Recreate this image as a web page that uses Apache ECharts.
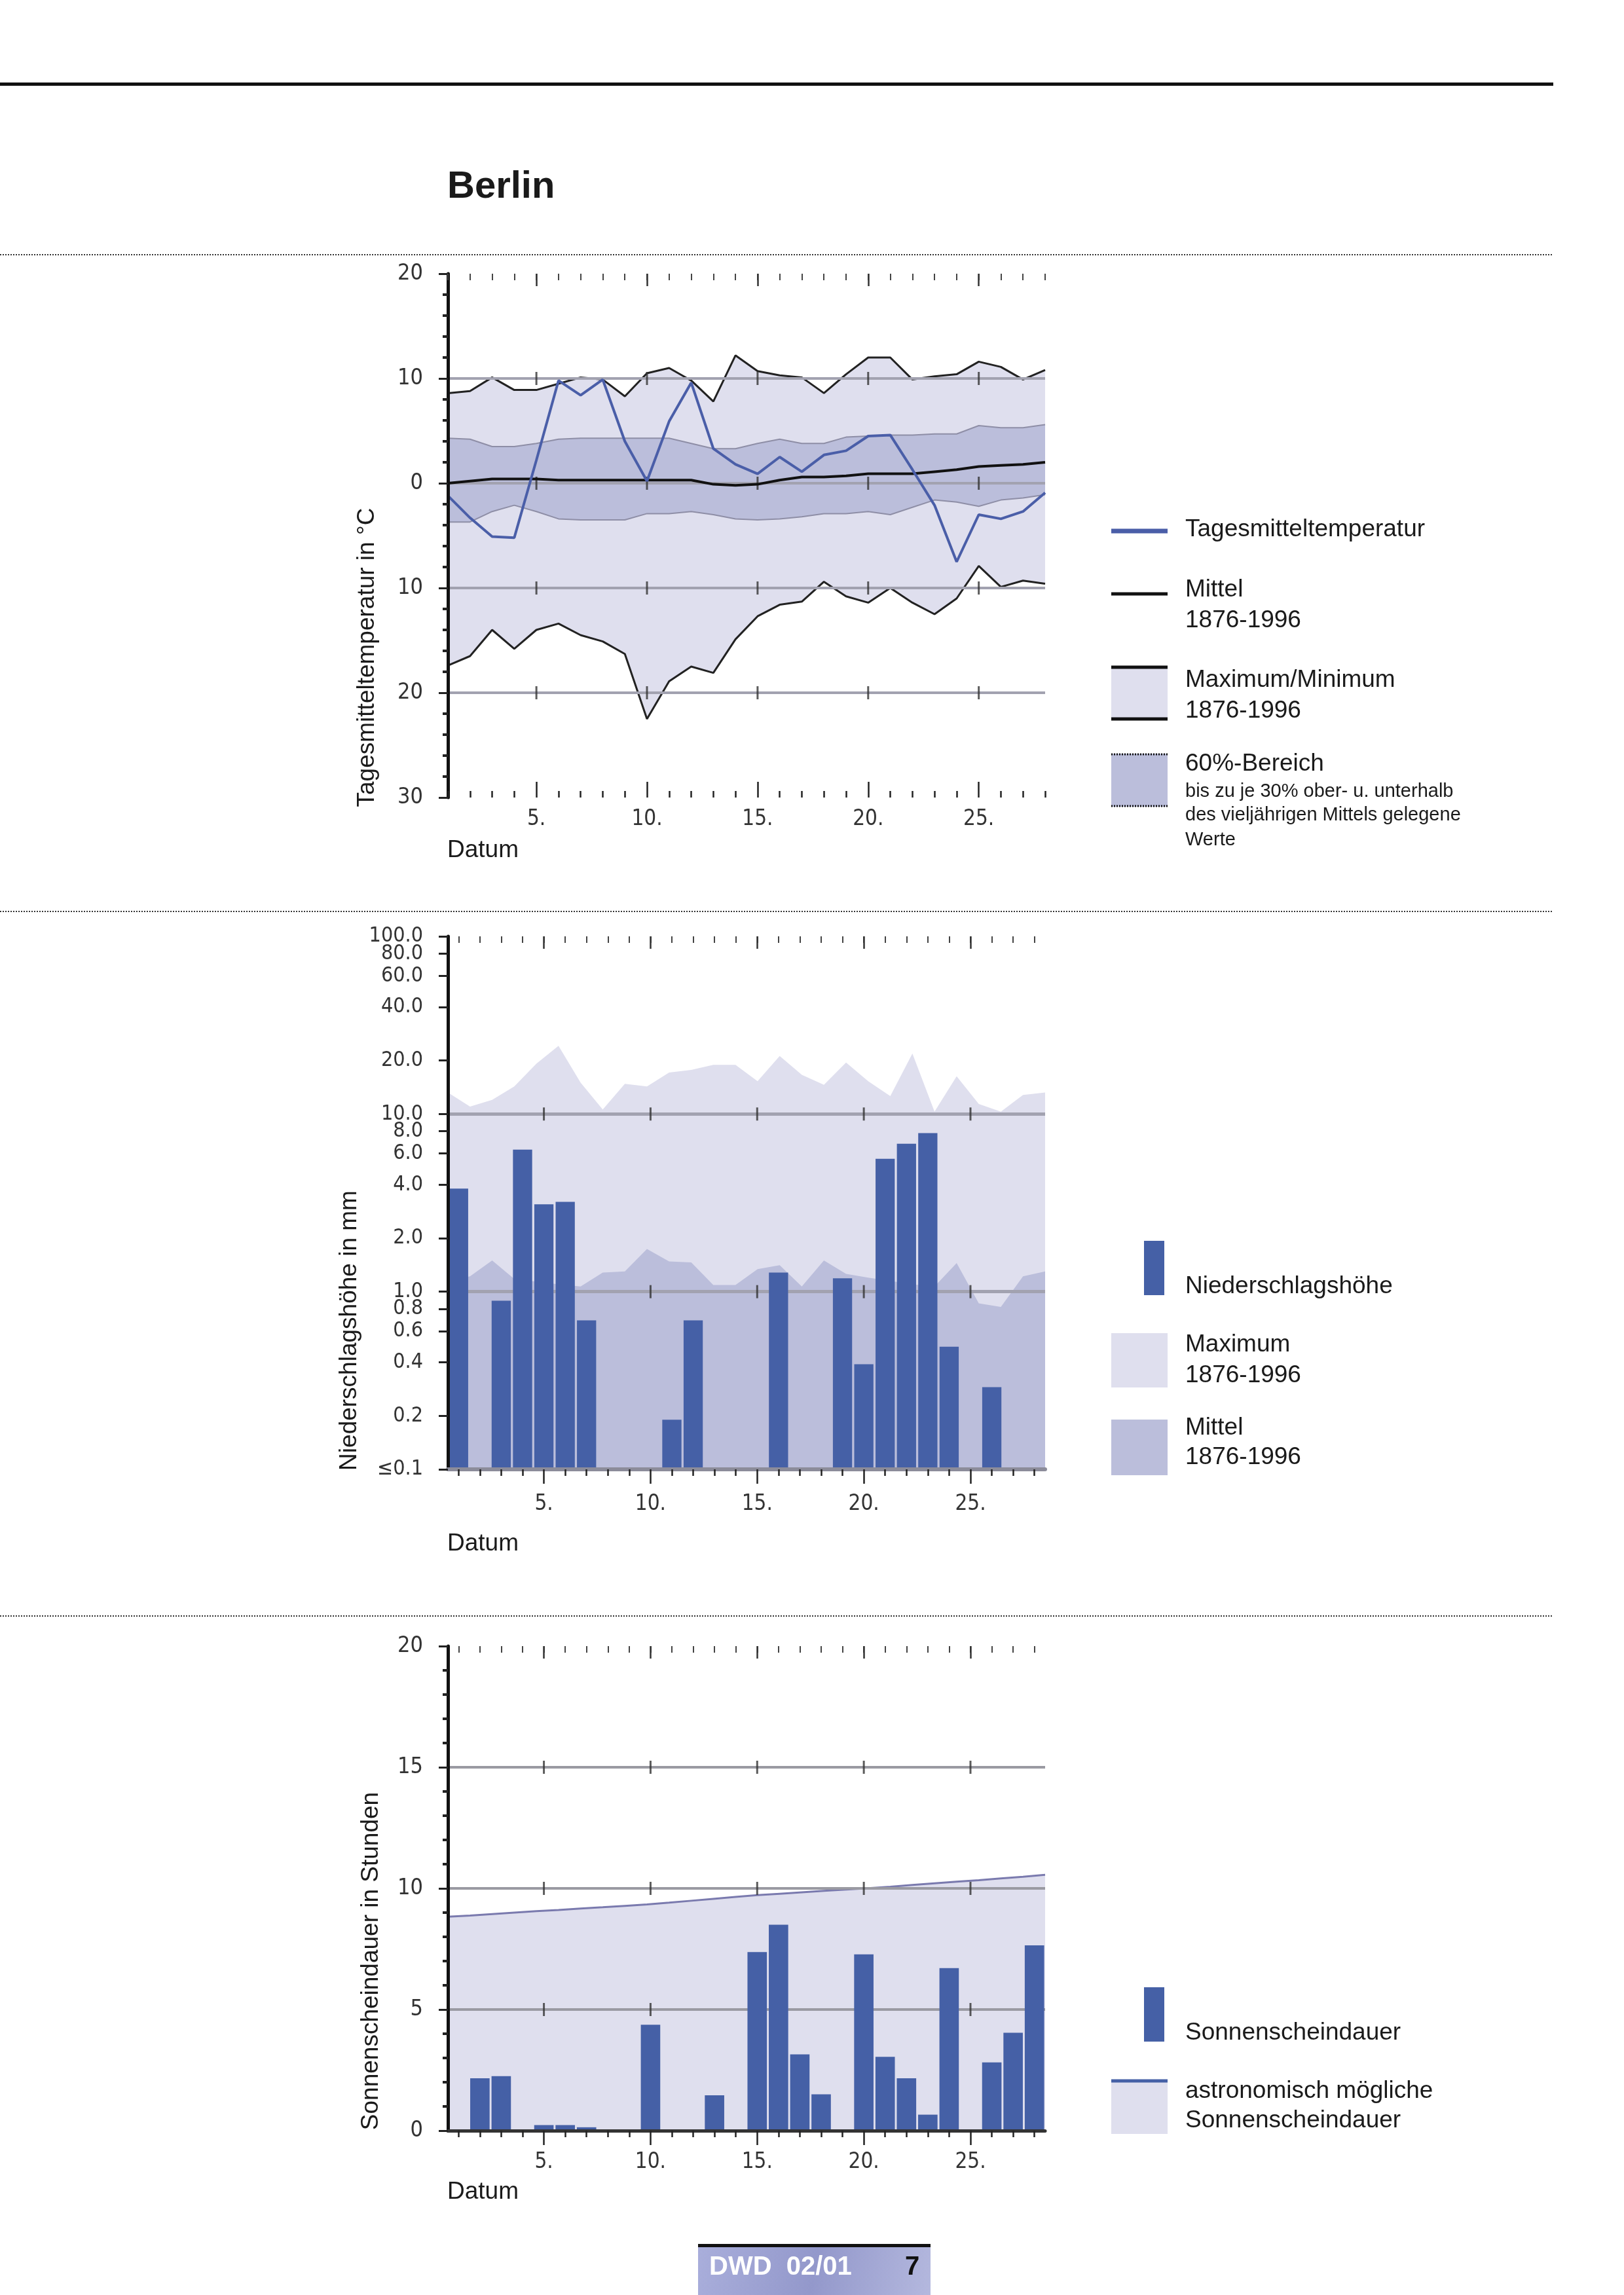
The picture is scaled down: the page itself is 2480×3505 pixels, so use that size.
<!DOCTYPE html>
<html>
<head>
<meta charset="utf-8">
<script src="https://cdn.jsdelivr.net/npm/echarts@6/dist/echarts.min.js"></script>
<style>
html,body{margin:0;padding:0;background:#ffffff;}
#c{width:2480px;height:3505px;}
</style>
</head>
<body>
<div id="c"></div>
<script>
// ---------------- DATA ----------------
const days = [1,2,3,4,5,6,7,8,9,10,11,12,13,14,15,16,17,18,19,20,21,22,23,24,25,26,27,28];
const markDays = [5,10,15,20,25];

// Temperature (°C)
const tempDaily   = [-1.2,-3.3,-5.1,-5.2,2.2,9.8,8.4,9.9,4.0,0.2,5.9,9.6,3.3,1.8,0.9,2.5,1.1,2.7,3.1,4.5,4.6,1.3,-2.1,-7.5,-3.0,-3.4,-2.7,-0.9];
const tempMean    = [0.0,0.2,0.4,0.4,0.4,0.3,0.3,0.3,0.3,0.3,0.3,0.3,-0.1,-0.2,-0.1,0.3,0.6,0.6,0.7,0.9,0.9,0.9,1.1,1.3,1.6,1.7,1.8,2.0];
const tempMax     = [8.6,8.8,10.1,8.9,8.9,9.5,10.1,9.9,8.3,10.5,11.0,9.8,7.8,12.2,10.7,10.3,10.1,8.6,10.4,12.0,12.0,9.9,10.2,10.4,11.6,11.1,9.9,10.8];
const tempMin     = [-17.4,-16.5,-14.0,-15.8,-14.0,-13.4,-14.5,-15.1,-16.3,-22.5,-18.9,-17.5,-18.1,-14.9,-12.7,-11.6,-11.3,-9.4,-10.8,-11.4,-10.0,-11.4,-12.5,-11.0,-7.9,-9.9,-9.3,-9.6];
const temp60Upper = [4.3,4.2,3.5,3.5,3.8,4.2,4.3,4.3,4.3,4.3,4.3,3.8,3.3,3.3,3.8,4.2,3.8,3.8,4.4,4.5,4.6,4.6,4.7,4.7,5.5,5.3,5.3,5.6];
const temp60Lower = [-3.7,-3.7,-2.7,-2.1,-2.7,-3.4,-3.5,-3.5,-3.5,-2.9,-2.9,-2.7,-3.0,-3.4,-3.5,-3.4,-3.2,-2.9,-2.9,-2.7,-3.0,-2.3,-1.6,-1.8,-2.2,-1.6,-1.4,-1.1];
const tempGridValues = [10, 0, -10, -20];

// Precipitation (mm)
const precipDaily = [3.8,null,0.89,6.3,3.1,3.2,0.69,null,null,null,0.19,0.69,null,null,null,1.28,null,null,1.19,0.39,5.6,6.8,7.8,0.49,null,0.29,null,null];
const precipMax   = [13.2,11.0,12.0,14.3,19.2,24.2,15.0,10.6,14.8,14.3,17.1,17.7,18.9,18.9,15.3,21.2,16.6,14.6,19.5,15.3,12.6,21.9,10.3,16.3,11.4,10.3,12.8,13.2];
const precipMean  = [1.15,1.22,1.5,1.18,1.14,1.1,1.07,1.28,1.3,1.74,1.48,1.46,1.09,1.09,1.34,1.41,1.07,1.5,1.26,1.2,1.15,1.1,1.07,1.45,0.86,0.82,1.22,1.3];
const precipTickValues = [0.1,0.2,0.4,0.6,0.8,1,2,4,6,8,10,20,40,60,99.9999];
const precipTickValuesExtra = [80];
const precipGridValues = [1, 10];

// Sunshine (hours)
const sunDaily    = [null,2.16,2.25,null,0.23,0.23,0.14,null,null,4.37,null,null,1.46,null,7.37,8.5,3.15,1.5,null,7.28,3.05,2.16,0.66,6.71,null,2.82,4.04,7.65];
const sunPossible = [8.83,8.88,8.94,9.0,9.06,9.11,9.17,9.22,9.28,9.34,9.41,9.49,9.57,9.65,9.72,9.78,9.84,9.9,9.95,10.01,10.07,10.14,10.21,10.28,10.34,10.41,10.48,10.56];
const sunGridValues = [5, 10, 15];

// ---------------- STYLE ----------------
const SANS = "'Liberation Sans', Arial, Helvetica, sans-serif";
const NARROW = "'Liberation Sans Narrow', 'DejaVu Sans Condensed', 'Liberation Sans', sans-serif";
const TXT = '#1a1a1a';
const BAR = '#4560a6';
const LINEBLUE = '#4a5ea8';
const LIGHT = '#dfdfee';
const MID = '#bbbedb';
const GRIDGRAY = '#a2a2b0';

const dayCats = days.map(String);
const isMark = (i) => markDays.indexOf(days[i]) >= 0;

function xAxesFor(grid, cfg) {
  const base = {gridIndex: grid, type: 'category', data: dayCats, boundaryGap: cfg.boundaryGap, splitLine: {show: false}, z: 10};
  const tickStyle = {color: '#222', width: 2.5};
  return [
    Object.assign({}, base, {position: 'bottom', axisLine: cfg.bottomLine,
      axisTick: {show: true, inside: cfg.bottomInside, interval: 0, alignWithLabel: true, length: cfg.minorLen, lineStyle: tickStyle},
      axisLabel: {show: false}}),
    Object.assign({}, base, {position: 'bottom', axisLine: {show: false, onZero: false},
      axisTick: {show: true, inside: cfg.bottomInside, interval: isMark, alignWithLabel: true, length: cfg.majorLen, lineStyle: tickStyle},
      axisLabel: {show: true, interval: isMark, formatter: v => v + '.', margin: cfg.labelMargin, fontSize: 33, fontFamily: NARROW, color: '#333'}}),
    Object.assign({}, base, {position: 'top', axisLine: {show: false, onZero: false},
      axisTick: {show: true, inside: true, interval: 0, alignWithLabel: true, length: 10, lineStyle: {color: '#444', width: 2}},
      axisLabel: {show: false}}),
    Object.assign({}, base, {position: 'top', axisLine: {show: false, onZero: false},
      axisTick: {show: true, inside: true, interval: isMark, alignWithLabel: true, length: 19, lineStyle: {color: '#333', width: 2.5}},
      axisLabel: {show: false}})
  ];
}

const xAxes = [].concat(
  // chart 1: indices 0..3
  xAxesFor(0, {boundaryGap: false, bottomLine: {show: false, onZero: false}, bottomInside: true, minorLen: 10, majorLen: 24, labelMargin: 17}),
  // chart 2: indices 4..7
  xAxesFor(1, {boundaryGap: true, bottomLine: {show: true, onZero: false, lineStyle: {color: '#8c8c9a', width: 6}}, bottomInside: false, minorLen: 10, majorLen: 22, labelMargin: 37}),
  // 8: hidden area axis chart 2
  [{gridIndex: 1, type: 'category', data: dayCats, boundaryGap: false, show: false, axisLine: {onZero: false}}],
  // chart 3: indices 9..12
  xAxesFor(2, {boundaryGap: true, bottomLine: {show: true, onZero: false, lineStyle: {color: '#333', width: 5}}, bottomInside: false, minorLen: 10, majorLen: 22, labelMargin: 32}),
  // 13: hidden area axis chart 3
  [{gridIndex: 2, type: 'category', data: dayCats, boundaryGap: false, show: false, axisLine: {onZero: false}}]
);

const yTick = {show: true, length: 14, lineStyle: {color: '#222', width: 3}};
const yLabel = {margin: 38, fontSize: 34, fontFamily: NARROW, color: '#333', hideOverlap: false, showMinLabel: true, showMaxLabel: true};
const yLine = {show: true, onZero: false, lineStyle: {color: '#111', width: 5}};
const precipFmt = v => (v <= 0.1001 ? '\u22640.1' : Number(v).toFixed(1));

const yAxes = [
  {gridIndex: 0, type: 'value', min: -30, max: 20, interval: 10, axisLine: yLine, axisTick: yTick,
   minorTick: {show: true, splitNumber: 5, length: 8, lineStyle: {color: '#222', width: 4}},
   axisLabel: Object.assign({}, yLabel, {formatter: v => String(Math.abs(v))}),
   splitLine: {show: false}, z: 10},
  {gridIndex: 1, type: 'log', logBase: 10, min: 0.1, max: 100, position: 'left', axisLine: yLine,
   axisTick: Object.assign({}, yTick, {customValues: precipTickValues}),
   axisLabel: Object.assign({}, yLabel, {customValues: precipTickValues, fontSize: 32, formatter: precipFmt}),
   splitLine: {show: false}, minorTick: {show: false}, z: 10},
  {gridIndex: 2, type: 'value', min: 0, max: 20, interval: 5, axisLine: yLine, axisTick: yTick,
   minorTick: {show: true, splitNumber: 5, length: 8, lineStyle: {color: '#222', width: 4}},
   axisLabel: yLabel, splitLine: {show: false}, z: 10},
  // extra overlay axis for the crowded 80.0 label
  {gridIndex: 1, type: 'log', logBase: 10, min: 0.1, max: 100, position: 'left', offset: 0,
   axisLine: {show: false, onZero: false},
   axisTick: Object.assign({}, yTick, {customValues: precipTickValuesExtra}),
   axisLabel: Object.assign({}, yLabel, {customValues: precipTickValuesExtra, fontSize: 32, formatter: precipFmt}),
   splitLine: {show: false}, minorTick: {show: false}, z: 10}
];

function crossData(values) {
  const out = [];
  values.forEach(v => markDays.forEach(d => out.push([String(d), v])));
  return out;
}
function gridMarkLine(values, color, width) {
  return {silent: true, symbol: ['none', 'none'], z: 5, label: {show: false},
          lineStyle: {color: color, width: width, type: 'solid'}, emphasis: {disabled: true},
          data: values.map(v => ({yAxis: v}))};
}
const crossStyle = {type: 'scatter', symbol: 'rect', symbolSize: [3, 20], itemStyle: {color: '#333'}, silent: true, z: 5};

const lineBase = {type: 'line', symbol: 'none', silent: true, animation: false};

const series = [
  // ---- Chart 1 ----
  Object.assign({}, lineBase, {name: 'Maximum', xAxisIndex: 1, yAxisIndex: 0, data: tempMax, z: 1,
    lineStyle: {color: '#222', width: 3}, areaStyle: {color: LIGHT, opacity: 1, origin: 'start'}}),
  Object.assign({}, lineBase, {name: '60% oben', xAxisIndex: 1, yAxisIndex: 0, data: temp60Upper, z: 2,
    lineStyle: {color: '#8e8ea6', width: 2}, areaStyle: {color: MID, opacity: 1, origin: 'start'}}),
  Object.assign({}, lineBase, {name: '60% unten', xAxisIndex: 1, yAxisIndex: 0, data: temp60Lower, z: 3,
    lineStyle: {color: '#8e8ea6', width: 2}, areaStyle: {color: LIGHT, opacity: 1, origin: 'start'}}),
  Object.assign({}, lineBase, {name: 'Minimum', xAxisIndex: 1, yAxisIndex: 0, data: tempMin, z: 4,
    lineStyle: {color: '#222', width: 3}, areaStyle: {color: '#ffffff', opacity: 1, origin: 'start'},
    markLine: gridMarkLine(tempGridValues, GRIDGRAY, 4)}),
  Object.assign({}, crossStyle, {xAxisIndex: 1, yAxisIndex: 0, data: crossData(tempGridValues)}),
  Object.assign({}, lineBase, {name: 'Mittel', xAxisIndex: 1, yAxisIndex: 0, data: tempMean, z: 6,
    lineStyle: {color: '#111', width: 4}}),
  Object.assign({}, lineBase, {name: 'Tagesmitteltemperatur', xAxisIndex: 1, yAxisIndex: 0, data: tempDaily, z: 7,
    lineStyle: {color: LINEBLUE, width: 4}}),

  // ---- Chart 2 ----
  Object.assign({}, lineBase, {name: 'Maximum NS', xAxisIndex: 8, yAxisIndex: 1, data: precipMax, z: 1,
    lineStyle: {width: 0}, areaStyle: {color: LIGHT, opacity: 1, origin: 'start'}}),
  Object.assign({}, lineBase, {name: 'Mittel NS', xAxisIndex: 8, yAxisIndex: 1, data: precipMean, z: 2,
    lineStyle: {width: 0}, areaStyle: {color: MID, opacity: 1, origin: 'start'},
    markLine: gridMarkLine(precipGridValues, GRIDGRAY, 5)}),
  Object.assign({}, crossStyle, {xAxisIndex: 4, yAxisIndex: 1, data: crossData(precipGridValues)}),
  {type: 'custom', name: 'Niederschlagshöhe', xAxisIndex: 4, yAxisIndex: 1, silent: true, z: 6,
   encode: {x: 0, y: 1},
   data: days.map((d, i) => precipDaily[i] == null ? null : [String(d), precipDaily[i]]).filter(x => x),
   renderItem: function (params, api) {
     const idx = api.value(0);
     const val = api.value(1);
     const top = api.coord([idx, val]);
     const base = api.coord([idx, 0.1]);
     const w = api.size([1, 1])[0] * 0.9;
     return {type: 'rect', shape: {x: top[0] - w / 2, y: top[1], width: w, height: base[1] - top[1]},
             style: {fill: BAR}};
   }},

  // ---- Chart 3 ----
  Object.assign({}, lineBase, {name: 'astronomisch mögliche Sonnenscheindauer', xAxisIndex: 13, yAxisIndex: 2, data: sunPossible, z: 1,
    lineStyle: {color: '#7a7aae', width: 3}, areaStyle: {color: LIGHT, opacity: 1, origin: 'start'},
    markLine: gridMarkLine(sunGridValues, '#9a9aa2', 4)}),
  Object.assign({}, crossStyle, {xAxisIndex: 9, yAxisIndex: 2, data: crossData(sunGridValues)}),
  {type: 'bar', name: 'Sonnenscheindauer', xAxisIndex: 9, yAxisIndex: 2, data: sunDaily, barWidth: '91%',
   itemStyle: {color: BAR}, silent: true, z: 6}
];

// ---------------- GRAPHIC (texts, legends, frame) ----------------
function text(x, y, s, size, opt) {
  opt = opt || {};
  return {type: 'text', x: x, y: y, silent: true, rotation: opt.rotation || 0, z: 20,
    style: {text: s, fontSize: size, fontFamily: opt.family || SANS, fontWeight: opt.weight || 'normal',
            fill: opt.fill || TXT, textAlign: opt.align || 'left', textVerticalAlign: 'middle',
            align: opt.align || 'left', verticalAlign: 'middle'}};
}
function hline(x1, x2, y, color, w, dash) {
  return {type: 'line', silent: true, z: 20, shape: {x1: x1, y1: y, x2: x2, y2: y},
          style: {stroke: color, lineWidth: w, lineDash: dash || null}};
}
function rect(x, y, w, h, fill) {
  return {type: 'rect', silent: true, z: 19, shape: {x: x, y: y, width: w, height: h}, style: {fill: fill}};
}

const LX = 1697, LW = 86, TX = 1810, BIG = 37, SMALL = 29;

const graphics = [
  // top frame
  rect(0, 126, 2372, 5, '#111'),
  text(683, 286, 'Berlin', 58, {weight: 'bold'}),
  hline(0, 2372, 389, '#333', 2, [2, 2]),
  hline(0, 2372, 1392, '#333', 2, [2, 2]),
  hline(0, 2372, 2468, '#333', 2, [2, 2]),

  // axis titles
  text(561, 1004, 'Tagesmitteltemperatur in \u00b0C', BIG, {rotation: Math.PI / 2, align: 'center'}),
  text(534, 2032, 'Niederschlagshöhe in mm', BIG, {rotation: Math.PI / 2, align: 'center'}),
  text(567, 2995, 'Sonnenscheindauer in Stunden', BIG, {rotation: Math.PI / 2, align: 'center'}),
  text(683, 1299, 'Datum', BIG),
  text(683, 2358, 'Datum', BIG),
  text(683, 3348, 'Datum', BIG),

  // legend chart 1
  hline(LX, LX + LW, 811, LINEBLUE, 7),
  text(TX, 809, 'Tagesmitteltemperatur', BIG),
  hline(LX, LX + LW, 907, '#111', 5),
  text(TX, 901, 'Mittel', BIG),
  text(TX, 948, '1876-1996', BIG),
  rect(LX, 1017, LW, 83, LIGHT),
  hline(LX, LX + LW, 1019, '#111', 5),
  hline(LX, LX + LW, 1098, '#111', 5),
  text(TX, 1039, 'Maximum/Minimum', BIG),
  text(TX, 1086, '1876-1996', BIG),
  rect(LX, 1151, LW, 81, MID),
  hline(LX, LX + LW, 1152, '#111', 3, [2, 2]),
  hline(LX, LX + LW, 1231, '#111', 3, [2, 2]),
  text(TX, 1167, '60%-Bereich', BIG),
  text(TX, 1209, 'bis zu je 30% ober- u. unterhalb', SMALL),
  text(TX, 1245, 'des vieljährigen Mittels gelegene', SMALL),
  text(TX, 1283, 'Werte', SMALL),

  // legend chart 2
  rect(1747, 1895, 31, 83, BAR),
  text(TX, 1965, 'Niederschlagshöhe', BIG),
  rect(LX, 2036, LW, 83, LIGHT),
  text(TX, 2054, 'Maximum', BIG),
  text(TX, 2101, '1876-1996', BIG),
  rect(LX, 2168, LW, 85, MID),
  text(TX, 2181, 'Mittel', BIG),
  text(TX, 2226, '1876-1996', BIG),

  // legend chart 3
  rect(1747, 3035, 31, 83, BAR),
  text(TX, 3105, 'Sonnenscheindauer', BIG),
  rect(LX, 3176, LW, 83, LIGHT),
  hline(LX, LX + LW, 3178, BAR, 5),
  text(TX, 3194, 'astronomisch mögliche', BIG),
  text(TX, 3239, 'Sonnenscheindauer', BIG),

  // footer
  rect(1066, 3427, 355, 5, '#111'),
  {type: 'rect', silent: true, z: 19, shape: {x: 1066, y: 3432, width: 355, height: 73},
   style: {fill: new echarts.graphic.LinearGradient(0, 0, 1, 1, [
     {offset: 0, color: '#a9aedb'}, {offset: 0.5, color: '#9398cb'}, {offset: 1, color: '#b4b8de'}])}},
  text(1083, 3463, 'DWD  02/01', 40, {weight: 'bold', fill: '#ffffff'}),
  text(1382, 3463, '7', 40, {weight: 'bold', fill: '#111'})
];

const option = {
  backgroundColor: '#ffffff',
  animation: false,
  grid: [
    {left: 684, top: 418, width: 912, height: 800, containLabel: false},
    {left: 684, top: 1430, width: 912, height: 814, containLabel: false},
    {left: 684, top: 2514, width: 912, height: 740, containLabel: false}
  ],
  xAxis: xAxes,
  yAxis: yAxes,
  series: series,
  graphic: {elements: graphics}
};

const chart = echarts.init(document.getElementById('c'), null, {renderer: 'canvas', width: 2480, height: 3505});
chart.setOption(option);
</script>
</body>
</html>
